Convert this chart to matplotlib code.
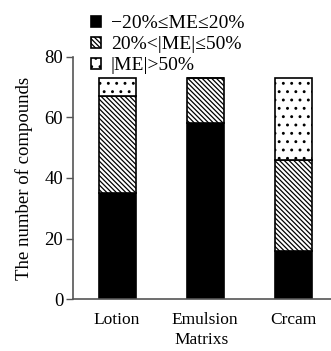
import matplotlib
matplotlib.use("Agg")
import matplotlib.pyplot as plt
import numpy as np

# values
matrices = ["Lotion", "Emulsion", "Crcam"]
low_me = [35, 58, 16]      # -20% <= ME <= 20%
mid_me = [32, 15, 30]      # 20% < |ME| <= 50%
high_me = [6, 0, 27]       # |ME| > 50%
labels = ["\u221220%\u2264ME\u226420%", "20%<|ME|\u226450%", "|ME|>50%"]

plt.rcParams['font.family'] = ['Liberation Serif', 'DejaVu Serif']
plt.rcParams['hatch.linewidth'] = 0.9
plt.rcParams['font.size'] = 13

fig = plt.figure(figsize=(3.31, 3.51), dpi=100)
ax = fig.add_axes([0.2205, 0.148, 0.78, 0.69])

x = np.arange(len(matrices))
w = 0.42
low = np.array(low_me)
mid = np.array(mid_me)
high = np.array(high_me)

b1 = ax.bar(x, low, w, color="black", edgecolor="black", lw=1.2, label=labels[0])
b2 = ax.bar(x, mid, w, bottom=low, color="white", edgecolor="black", lw=1.2,
            hatch="\\\\\\\\\\\\\\", label=labels[1])
b3 = ax.bar(x, high, w, bottom=low + mid, color="white", edgecolor="black", lw=1.2,
            hatch="..", label=labels[2])

ax.set_xlim(-0.5, 2.43)
ax.set_ylim(0, 80)
ax.set_yticks([0, 20, 40, 60, 80])
ax.set_xticks(x)
ax.set_xticklabels(matrices)
ax.tick_params(axis="x", length=0, pad=9, labelsize=12.5)
ax.tick_params(axis="y", length=5, width=1, color="#555555", pad=2, labelsize=13.5)
for s in ["top", "right"]:
    ax.spines[s].set_visible(False)
for s in ["left", "bottom"]:
    ax.spines[s].set_color("#555555")
    ax.spines[s].set_linewidth(1.2)

ax.set_ylabel("The number of compounds", labelpad=8, fontsize=13.5)
ax.set_xlabel("Matrixs", labelpad=3, fontsize=12.5)

fig.legend(handles=[b1, b2, b3], loc="upper left", bbox_to_anchor=(0.235, 0.995),
           frameon=False, handlelength=0.5, handleheight=0.5, handletextpad=0.5,
           labelspacing=0.2, borderpad=0.2, fontsize=14)

fig.savefig("out.png", dpi=100)
